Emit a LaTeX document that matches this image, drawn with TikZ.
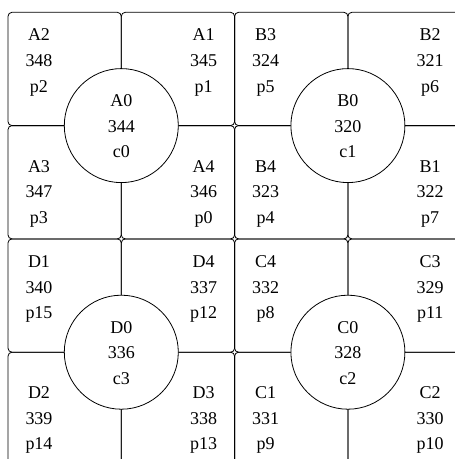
\documentclass[tikz,border=0pt]{standalone}
\usepackage{fontspec}
\setmainfont{Liberation Serif}
\begin{document}
\begin{tikzpicture}[x=1pt,y=-1pt,
  cell/.style={draw, line width=0.8pt, rounded corners=4pt, minimum width=113.3pt, minimum height=113.3pt, inner sep=0pt, outer sep=0pt},
  hub/.style={circle, draw, fill=white, line width=0.8pt, minimum size=114pt, inner sep=0pt},
  lbl/.style={align=center, font=\fontsize{18}{25.6}\selectfont, inner sep=0pt, anchor=base}]
\clip (0,0) rectangle (455,459);
% cells
\node[cell] (a2) at (64.65,68.95) {};
\node[cell] (a1) at (177.95,68.95) {};
\node[cell] (b3) at (291.25,68.95) {};
\node[cell] (b2) at (404.55,68.95) {};
\node[cell] (a3) at (64.65,182.25) {};
\node[cell] (a4) at (177.95,182.25) {};
\node[cell] (b4) at (291.25,182.25) {};
\node[cell] (b1) at (404.55,182.25) {};
\node[cell] (d1) at (64.65,295.55) {};
\node[cell] (d4) at (177.95,295.55) {};
\node[cell] (c4) at (291.25,295.55) {};
\node[cell] (c3) at (404.55,295.55) {};
\node[cell] (d2) at (64.65,408.85) {};
\node[cell] (d3) at (177.95,408.85) {};
\node[cell] (c1) at (291.25,408.85) {};
\node[cell] (c2) at (404.55,408.85) {};
% hubs
\node[hub] (a0) at (121.3,125.6) {};
\node[hub] (b0) at (347.9,125.6) {};
\node[hub] (d0) at (121.3,352.2) {};
\node[hub] (c0) at (347.9,352.2) {};
% cell labels (anchor = baseline of last line)
\node[lbl] (ta2) at (39,92.0) {A2\\348\\p2};
\node[lbl] (ta1) at (203.6,92.0) {A1\\345\\p1};
\node[lbl] (tb3) at (265.6,92.0) {B3\\324\\p5};
\node[lbl] (tb2) at (430.2,92.0) {B2\\321\\p6};
\node[lbl] (ta3) at (39,223.3) {A3\\347\\p3};
\node[lbl] (ta4) at (203.6,223.3) {A4\\346\\p0};
\node[lbl] (tb4) at (265.6,223.3) {B4\\323\\p4};
\node[lbl] (tb1) at (430.2,223.3) {B1\\322\\p7};
\node[lbl] (td1) at (39,318.6) {D1\\340\\p15};
\node[lbl] (td4) at (203.6,318.6) {D4\\337\\p12};
\node[lbl] (tc4) at (265.6,318.6) {C4\\332\\p8};
\node[lbl] (tc3) at (430.2,318.6) {C3\\329\\p11};
\node[lbl] (td2) at (39,449.9) {D2\\339\\p14};
\node[lbl] (td3) at (203.6,449.9) {D3\\338\\p13};
\node[lbl] (tc1) at (265.6,449.9) {C1\\331\\p9};
\node[lbl] (tc2) at (430.2,449.9) {C2\\330\\p10};
% hub labels
\node[lbl] (ta0) at (121.3,157.8) {A0\\344\\c0};
\node[lbl] (tb0) at (347.9,157.8) {B0\\320\\c1};
\node[lbl] (td0) at (121.3,384.4) {D0\\336\\c3};
\node[lbl] (tc0) at (347.9,384.4) {C0\\328\\c2};
\end{tikzpicture}
\end{document}
